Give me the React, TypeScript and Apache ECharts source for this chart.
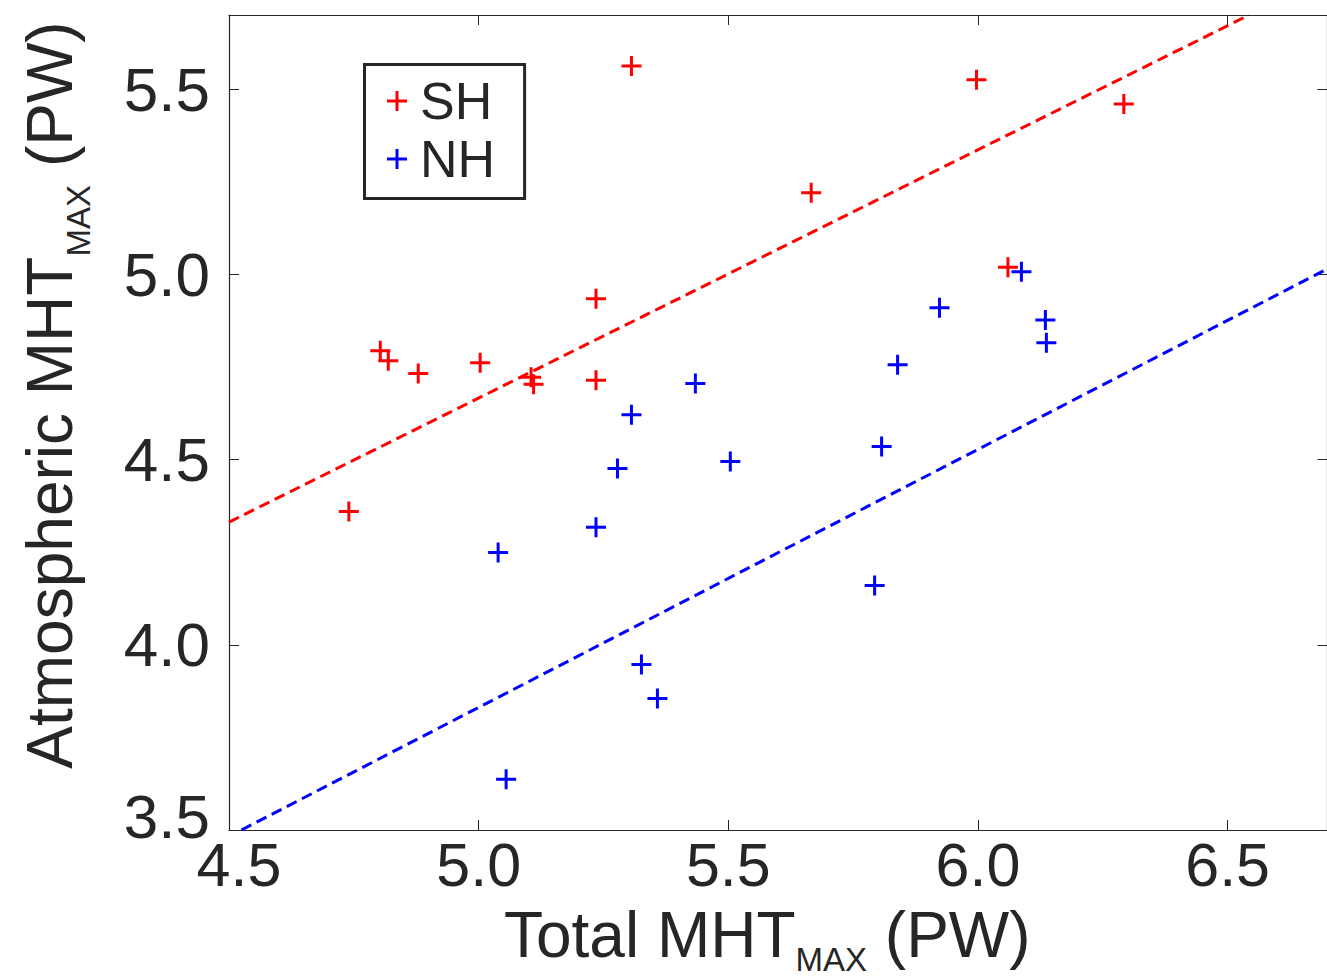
import React, { useEffect, useRef } from 'react';
import * as echarts from 'echarts';

// ---- data ----
const shTotal = [4.740, 4.803, 4.819, 4.879, 5.003, 5.105, 5.110, 5.235, 5.235, 5.306, 5.666, 5.997, 6.060, 6.292];
const shAtmos = [4.360, 4.794, 4.767, 4.732, 4.761, 4.722, 4.703, 4.934, 4.714, 5.562, 5.220, 5.525, 5.019, 5.460];
const nhTotal = [5.039, 5.055, 5.235, 5.278, 5.306, 5.326, 5.358, 5.434, 5.504, 5.793, 5.807, 5.839, 5.923, 6.087, 6.135, 6.137];
const nhAtmos = [4.249, 3.637, 4.317, 4.476, 4.621, 3.947, 3.855, 4.705, 4.495, 4.160, 4.535, 4.756, 4.910, 5.007, 4.877, 4.815];
const shFitX = [4.5, 6.543];
const shFitY = [4.331, 5.7];
const nhFitX = [4.525, 6.7];
const nhFitY = [3.5, 5.015];
const xRange = [4.5, 6.7];
const yRange = [3.5, 5.7];
const tickStep = 0.5;
const seriesNames = ['SH', 'NH'];

const FONT = '"Liberation Sans", Arial, Helvetica, sans-serif';
const INK = '#262626';
const RED = '#ff0000';
const BLUE = '#0000ff';
const PLUS = 'path://M0,8.5H20V11.5H0Z M8.5,0H11.5V20H8.5Z';

const pairs = (xs: number[], ys: number[]) => xs.map((x, i) => [x, ys[i]]);

const axisCommon = {
  type: 'value' as const,
  interval: tickStep,
  splitLine: { show: false },
  axisLine: { show: true, onZero: false, lineStyle: { color: INK, width: 1.2 } },
  axisTick: { show: true, inside: true, length: 10, lineStyle: { color: INK, width: 1 } },
  nameMoveOverlap: false,
};

const labelBase = { fontSize: 61, fontFamily: FONT, color: INK };

export default function App() {
  const ref = useRef<HTMLDivElement>(null);
  useEffect(() => {
    const chart = echarts.init(ref.current!, undefined, { renderer: 'svg' });
    const option: any = {
      animation: false,
      backgroundColor: '#ffffff',
      grid: {
        left: 229,
        top: 15,
        width: 1098.5,
        height: 815,
        containLabel: false,
        outerBoundsMode: 'none',
      },
      legend: {
        data: seriesNames,
        orient: 'vertical',
        left: 364.5,
        top: 64.5,
        padding: [7.5, 29.5, 10.5, 22.5],
        itemGap: 0,
        itemWidth: 20,
        itemHeight: 20,
        borderColor: INK,
        borderWidth: 3,
        backgroundColor: '#ffffff',
        selectedMode: false,
        textStyle: { fontSize: 52, lineHeight: 58, fontFamily: FONT, color: INK, padding: [0, 0, 0, 8] },
      },
      xAxis: [
        {
          ...axisCommon,
          min: xRange[0],
          max: xRange[1],
          position: 'bottom',
          axisLabel: {
            ...labelBase,
            lineHeight: 50,
            margin: 10,
            showMaxLabel: false,
            formatter: (v: number) => (Math.abs(v - xRange[0]) < 1e-9 ? `{first|${v.toFixed(1)}}` : v.toFixed(1)),
            rich: { first: { ...labelBase, lineHeight: 50, padding: [0, 0, 0, 20] } },
          },
          name: '{a|Total MHT}{s|MAX}{b|(PW)}',
          nameLocation: 'middle',
          nameGap: 73,
          nameTextStyle: {
            ...labelBase,
            rich: {
              a: { fontSize: 64, lineHeight: 64, fontFamily: FONT, color: INK, verticalAlign: 'middle' },
              s: { fontSize: 33, lineHeight: 20, fontFamily: FONT, color: INK, verticalAlign: 'middle', padding: [49, 0, 0, 0] },
              b: { fontSize: 64, lineHeight: 64, fontFamily: FONT, color: INK, verticalAlign: 'middle', padding: [0, 22, 0, 17.8] },
            },
          },
        },
        {
          ...axisCommon,
          min: xRange[0],
          max: xRange[1],
          position: 'top',
          axisLabel: { show: false },
        },
      ],
      yAxis: [
        {
          ...axisCommon,
          min: yRange[0],
          max: yRange[1],
          position: 'left',
          axisLabel: {
            ...labelBase,
            fontSize: 62,
            margin: 19,
            showMaxLabel: false,
            formatter: (v: number) => (Math.abs(v - yRange[0]) < 1e-9 ? `{first|${v.toFixed(1)}}` : v.toFixed(1)),
            rich: { first: { ...labelBase, fontSize: 62, padding: [0, 0, 28, 0] } },
          },
          name: '{a|Atmospheric MHT}{s|MAX}{b|(PW)}',
          nameLocation: 'middle',
          nameRotate: 90,
          nameGap: 147.4,
          nameTextStyle: {
            ...labelBase,
            rich: {
              a: { fontSize: 64, lineHeight: 64, fontFamily: FONT, color: INK, verticalAlign: 'middle', padding: [0, 0, 0, 55] },
              s: { fontSize: 33, lineHeight: 20, fontFamily: FONT, color: INK, verticalAlign: 'middle', padding: [57, 0, 0, 0] },
              b: { fontSize: 64, lineHeight: 64, fontFamily: FONT, color: INK, verticalAlign: 'middle', padding: [0, 0, 0, 18] },
            },
          },
        },
        {
          ...axisCommon,
          min: yRange[0],
          max: yRange[1],
          position: 'right',
          axisLabel: { show: false },
        },
      ],
      series: [
        {
          name: 'SH fit',
          type: 'line',
          data: pairs(shFitX, shFitY),
          showSymbol: false,
          symbol: 'none',
          clip: true,
          z: 2,
          lineStyle: { color: RED, width: 3, type: [11, 6] },
          silent: true,
        },
        {
          name: 'NH fit',
          type: 'line',
          data: pairs(nhFitX, nhFitY),
          showSymbol: false,
          symbol: 'none',
          clip: true,
          z: 2,
          lineStyle: { color: BLUE, width: 3, type: [11, 6] },
          silent: true,
        },
        {
          name: seriesNames[0],
          type: 'scatter',
          data: pairs(shTotal, shAtmos),
          symbol: PLUS,
          symbolSize: 20,
          z: 3,
          itemStyle: { color: RED, opacity: 1 },
        },
        {
          name: seriesNames[1],
          type: 'scatter',
          data: pairs(nhTotal, nhAtmos),
          symbol: PLUS,
          symbolSize: 20,
          z: 3,
          itemStyle: { color: BLUE, opacity: 1 },
        },
      ],
    };
    chart.setOption(option);
    return () => chart.dispose();
  }, []);
  return (
    <div
      ref={ref}
      style={{ position: 'absolute', left: 0, top: 0, width: 1327, height: 979, background: '#ffffff' }}
    />
  );
}
